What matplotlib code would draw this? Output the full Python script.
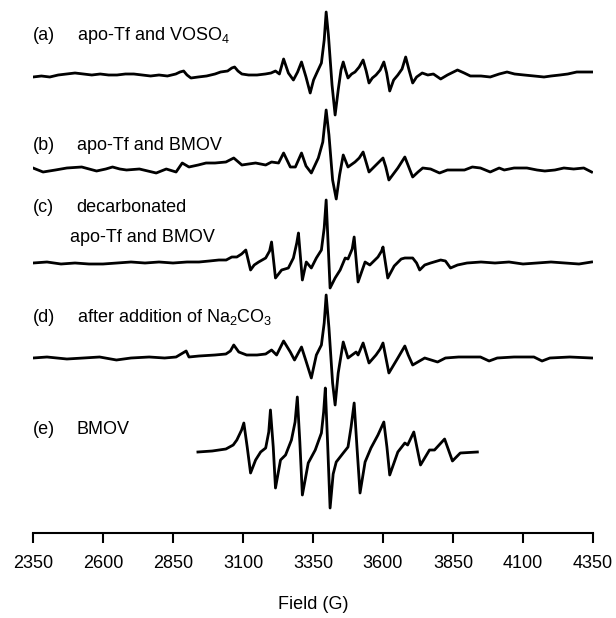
import matplotlib
matplotlib.use('Agg')
import matplotlib.pyplot as plt

# EPR spectra, values (field in G, intensity in arbitrary units)
field_a = [2350, 2380, 2410, 2440, 2470, 2500, 2530, 2560, 2590, 2620, 2650, 2680, 2710, 2740,
           2770, 2800, 2830, 2860, 2875, 2888, 2900, 2914, 2940, 2970, 3000, 3020, 3045, 3060,
           3070, 3082, 3096, 3120, 3150, 3180, 3200, 3216, 3230, 3245, 3262, 3280, 3295, 3309,
           3325, 3340, 3352, 3365, 3380, 3390, 3397, 3405, 3418, 3429, 3440, 3450, 3458, 3466,
           3475, 3488, 3500, 3515, 3529, 3540, 3550, 3562, 3575, 3590, 3603, 3613, 3624, 3638,
           3653, 3668, 3681, 3693, 3706, 3720, 3740, 3760, 3780, 3806, 3830, 3866, 3890, 3912,
           3950, 3983, 4015, 4043, 4070, 4104, 4140, 4175, 4200, 4232, 4260, 4292, 4320, 4345]
int_a = [-2, -1, -2, 0, 1, 2, 1, 0, 1, 0, 0, 1, 1, 0,
         -1, 0, -1, 1, 3, 4, 0, -3, -2, -1, 1, 3, 4, 7,
         8, 4, 1, 0, 0, 1, 2, 4, 1, 16, 2, -5, 3, 13,
         -2, -18, -5, 3, 12, 35, 63, 40, -10, -40, -15, 5, 13, 5,
         -3, 1, 3, 8, 15, 4, -8, -3, 0, 5, 13, 2, -16, -5,
         0, 6, 18, 5, -8, -2, 2, 0, 1, -4, 0, 5, 2, -1,
         -1, -2, 1, 3, 1, 0, -1, -2, -1, 0, 1, 3, 3, 3]

field_b = [2350, 2386, 2430, 2471, 2524, 2577, 2610, 2634, 2660, 2684, 2730, 2760, 2790, 2826,
           2861, 2883, 2907, 2940, 2968, 3000, 3039, 3067, 3096, 3120, 3145, 3181, 3202, 3227,
           3245, 3269, 3287, 3309, 3325, 3344, 3369, 3385, 3397, 3407, 3420, 3433, 3445, 3458,
           3475, 3500, 3515, 3529, 3550, 3575, 3600, 3610, 3621, 3653, 3678, 3692, 3706, 3725,
           3742, 3770, 3802, 3830, 3860, 3891, 3919, 3948, 3983, 4015, 4033, 4068, 4114, 4150,
           4178, 4214, 4246, 4281, 4317, 4345]
int_b = [2, -2, 0, 2, 3, -1, 1, 3, 1, 0, 1, -1, -3, 1,
         -2, 7, 3, 5, 7, 7, 8, 12, 5, 6, 7, 5, 8, 7,
         17, 3, 3, 17, 4, -3, 12, 28, 60, 35, -10, -29, -5, 15,
         3, 8, 12, 18, -2, 5, 12, 3, -10, 2, 13, 3, -7, -2,
         2, 1, -3, 0, 0, 0, 3, 2, -2, 2, 0, 2, 2, 0,
         -1, 0, 2, 1, 2, -2]

field_c = [2350, 2400, 2450, 2500, 2550, 2600, 2650, 2700, 2750, 2800, 2850, 2900, 2943, 2980,
           3014, 3040, 3060, 3078, 3095, 3110, 3127, 3140, 3156, 3181, 3195, 3202, 3216, 3238,
           3262, 3280, 3292, 3298, 3312, 3326, 3344, 3362, 3380, 3390, 3397, 3411, 3429, 3447,
           3465, 3475, 3490, 3497, 3511, 3536, 3553, 3582, 3595, 3600, 3617, 3640, 3665, 3678,
           3706, 3720, 3731, 3749, 3770, 3806, 3823, 3841, 3866, 3900, 3950, 4000, 4050, 4100,
           4150, 4200, 4250, 4300, 4345]
int_c = [0, 1, -1, 0, -1, -1, 0, 1, 0, 1, 0, 1, 1, 2,
         3, 3, 6, 6, 9, 13, -7, -2, 1, 5, 12, 21, -15, -7,
         -5, 5, 20, 30, -17, 1, -5, 5, 13, 35, 63, -25, -15, -7,
         5, 4, 14, 26, -19, 1, -2, 6, 12, 16, -15, -3, 4, 5,
         5, 0, -7, -2, 0, 3, 2, -5, -2, 0, 1, 0, 1, -1,
         0, 1, 0, -1, 1]

field_d = [2350, 2400, 2471, 2530, 2588, 2648, 2700, 2765, 2820, 2861, 2897, 2907, 2943, 3000,
           3039, 3055, 3067, 3085, 3113, 3150, 3181, 3202, 3220, 3245, 3269, 3284, 3309, 3325,
           3344, 3362, 3380, 3390, 3397, 3407, 3420, 3429, 3440, 3458, 3475, 3504, 3511, 3529,
           3550, 3575, 3590, 3600, 3621, 3653, 3678, 3690, 3706, 3749, 3795, 3823, 3870, 3948,
           3979, 4008, 4068, 4139, 4168, 4196, 4267, 4345]
int_d = [0, 1, -1, 0, 1, -2, 0, 1, 0, 1, 7, 1, 2, 3,
         4, 7, 13, 6, 3, 3, 4, 8, 3, 17, 6, -2, 11, -3,
         -20, 3, 13, 35, 63, 30, -25, -47, -15, 16, 0, 6, 3, 15,
         -5, 3, 9, 15, -15, 0, 12, 3, -7, 0, -4, 0, 1, 1,
         -3, 0, 1, 1, -3, 0, 1, 0]

field_e = [2939, 2990, 3039, 3065, 3078, 3095, 3103, 3115, 3127, 3145, 3163, 3181, 3192, 3198,
           3208, 3216, 3234, 3252, 3273, 3286, 3294, 3303, 3312, 3333, 3358, 3380, 3388, 3394,
           3402, 3411, 3422, 3433, 3458, 3475, 3486, 3497, 3507, 3518, 3536, 3557, 3582, 3603,
           3614, 3624, 3653, 3678, 3688, 3710, 3734, 3766, 3784, 3820, 3848, 3876, 3937]
int_e = [0, 1, 3, 7, 12, 22, 29, 5, -21, -8, 0, 4, 20, 42,
         5, -36, -8, -3, 12, 30, 55, 10, -43, -11, 2, 19, 40, 64,
         10, -56, -22, -10, -1, 5, 25, 49, 5, -41, -10, 4, 17, 30,
         5, -23, 0, 9, 7, 20, -13, 2, 2, 13, -9, -1, 0]

offsets = [458, 363, 270, 175, 81]
labels = ['(a)', '(b)', '(c)', '(d)', '(e)']
texts = [r'apo-Tf and VOSO$_4$', 'apo-Tf and BMOV', 'decarbonated\napo-Tf and BMOV',
         r'after addition of Na$_2$CO$_3$', 'BMOV']
xticks = [2350, 2600, 2850, 3100, 3350, 3600, 3850, 4100, 4350]

plt.rcParams['font.family'] = 'Liberation Sans'
plt.rcParams['mathtext.default'] = 'regular'

fig = plt.figure(figsize=(6.16, 6.18), dpi=100)
ax = fig.add_axes([33 / 616, 85 / 618, 560 / 616, 533 / 618])

traces = [(field_a, int_a), (field_b, int_b), (field_c, int_c), (field_d, int_d), (field_e, int_e)]
for (f, y), off in zip(traces, offsets):
    ax.plot(f, [v + off for v in y], color='black', lw=2.0, solid_joinstyle='round')

# panel labels
label_y = [498, 388, 325, 216, 104]
for lab, txt, ly in zip(labels, texts, label_y):
    ax.text(2350, ly, lab, fontsize=13, va='center', ha='left')
    if '\n' in txt:
        l1, l2 = txt.split('\n')
        ax.text(2506, ly, l1, fontsize=13, va='center', ha='left')
        ax.text(2481, ly - 29, l2, fontsize=13, va='center', ha='left')
    else:
        ax.text(2506, ly, txt, fontsize=13, va='center', ha='left')

ax.set_xlim(2350, 4350)
ax.set_ylim(0, 533)
ax.set_xticks(xticks)
ax.set_yticks([])
for s in ['left', 'right', 'top']:
    ax.spines[s].set_visible(False)
ax.spines['bottom'].set_linewidth(1.5)
ax.tick_params(axis='x', direction='out', length=7, width=1.5, labelsize=13, pad=9)
ax.set_xlabel('Field (G)', fontsize=13, labelpad=17)

fig.savefig('out.png', dpi=100)
